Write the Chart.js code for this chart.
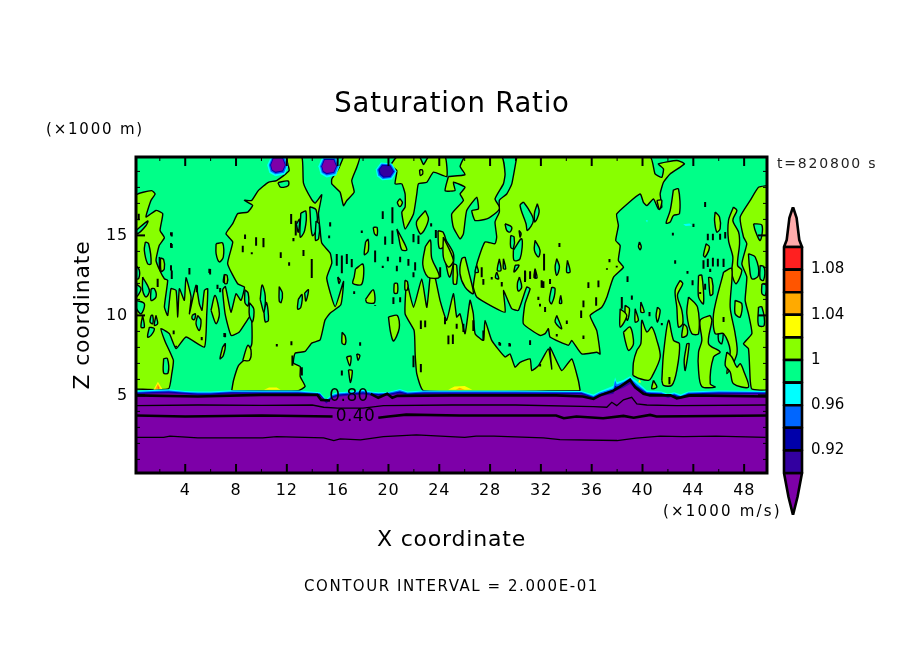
<!DOCTYPE html>
<html lang="en">
<head>
<meta charset="UTF-8">
<title>Saturation Ratio</title>
<script src="https://cdn.jsdelivr.net/npm/chart.js"></script>
<style>
  html,body{margin:0;padding:0;width:904px;height:654px;background:#fff;overflow:hidden;font-family:'DejaVu Sans',sans-serif}
  #plot{position:absolute;left:0;top:0}
  #cbar{position:absolute;left:781px;top:207px}
  .note{position:absolute;white-space:nowrap;line-height:20px;color:#000}
</style>
</head>
<body>
<canvas id="plot" width="904" height="654"></canvas>
<canvas id="cbar" width="101" height="308"></canvas>
<div class="note" style="left:46px;top:119px;font-size:15px;letter-spacing:1.8px">(×1000 m)</div>
<div class="note" style="left:777px;top:153px;font-size:14px;letter-spacing:1.8px;color:#222">t=820800 s</div>
<div class="note" style="left:663px;top:501px;font-size:15px;letter-spacing:2.2px">(×1000 m/s)</div>
<div class="note" style="left:304px;top:576px;font-size:15px;letter-spacing:1.55px">CONTOUR INTERVAL = 2.000E-01</div>
<script>
const titleText='Saturation Ratio';
const xAxisTitle='X coordinate';
const yAxisTitle='Z coordinate';
const xRange=[0.125,49.8];
const yRange=[0.15,19.9];
const xTickLabels=[4,8,12,16,20,24,28,32,36,40,44,48];
const yTickLabels=[5,10,15];
const xMinorTicks=[2,6,10,14,18,22,26,30,34,38,42,46];
const yMinorTicks=[1,2,3,4,6,7,8,9,11,12,13,14,16,17,18,19];

// colour levels, bottom to top
const cbLevels=[0.90,0.92,0.94,0.96,0.98,1.00,1.02,1.04,1.06,1.08,1.10];
const cbColors=['#3300a0','#0000aa','#0066ff','#00ffff','#00ff88','#88ff00','#ffff00','#ffaa00','#ff5500','#ff2020'];
const cbTickValues=[0.92,0.96,1,1.04,1.08];
const cbUpper=[0,1.10,0.15,1.1062,0.3,1.1257,0.5,1.1354,0.7,1.1257,0.85,1.1062,1,1.10];
const cbLower=[0,0.90,0.25,0.8787,0.5,0.8628,0.75,0.8787,1,0.90];
const PURPLE='#7d00a8',INDIGO='#3300a0',DARK='#0000aa',BLUE='#0066ff',CYAN='#00ffff',GREEN='#00ff88',LIME='#88ff00',YELLOW='#ffff00',ORANGE='#ffaa00',RED='#ff2020',PINK='#ffaaaa';

// large 1.00-1.02 regions (x,y pairs in km)
const limeLeft=[0.125,5.4,2.68,5.4,2.94,6.34,3.07,7.18,2.86,7.6,2.4,8.4,2.09,9.17,2.75,8.86,3.28,7.92,4.06,8.65,5.51,8.02,5.69,10,5.77,11.67,5.51,11.56,5.32,10.32,5.11,10.73,4.85,11.88,4.33,10.1,4.46,11.15,4.06,12.36,3.93,10.94,3.54,11.67,3.41,9.9,3.28,11.56,2.88,11.67,2.62,10,2.36,10.52,2.62,12.19,2.36,12.29,2.02,12.77,1.7,13.44,1.96,14.38,2.36,14.86,2.02,15.31,2.23,16.36,1.7,16.56,0.91,16.15,1.31,17.19,1.63,17.59,1.36,17.8,0.125,17.49];
const limeWest=[7.66,5.3,7.8,5.93,8.19,6.86,8.71,7.28,9.24,8.22,9.18,10,8.26,8.96,7.61,8.75,7.14,10.1,6.95,11.6,7.16,11.8,7.6,10.2,8,11.35,8.39,10.94,8.66,11.77,8.13,11.98,7.34,13.23,7.74,14.59,7.21,15.11,7.74,15.73,8.13,16.36,8.92,16.46,9.31,16.88,8.66,17.19,9.23,17.18,9.75,17.8,10.54,18.32,11.19,18.43,12.18,19.05,11.97,19.9,13.18,19.9,13.31,18.27,13.96,17.23,14.23,17.02,14.75,17.54,14.49,16.39,14.62,15.35,14.75,14.52,15.41,13.89,15.54,13.27,15.14,12.33,15.8,10.55,16.46,12.12,16.25,10.66,15.4,10.14,15,9.7,14.62,8.47,13.96,8.27,13.44,7.75,12.65,7.64,12.52,7.02,13.05,6.81,13.05,6.18,13.44,5.56,12.9,5.3];
const limeTopMid=[24.72,18.68,26.03,18.8,25.64,19.3,26.03,19.9,28.92,19.9,29.18,18.84,29.05,18.22,28.39,17.28,28.79,16.72,28.52,16.45,27.74,16.03,26.82,15.93,26.56,16.55,27.08,16.65,26.95,17.38,26.16,16.55,25.9,15.09,25.64,14.78,25.11,15.51,24.98,16.34,25.9,17.18,25.64,17.59,26.03,18.01,25.11,18.32,25.24,17.8,24.46,17.8];
const limeCentre=[30.1,19.9,40.6,19.9,40.99,18.84,41.52,18.63,41.65,19.15,41.25,19.47,42.7,19.68,43.3,19.47,42.17,18.84,41.65,18.32,41.39,17.59,41.52,16.76,41.25,16.65,40.86,17.28,40.34,16.86,40.07,17.07,39.81,17.59,37.97,16.34,38.1,15.61,37.89,14.68,38.24,14.36,38.1,13.43,38.5,13.01,37.71,12.38,37.19,11.13,36.79,10.51,35.87,9.99,36.4,9.05,36.66,7.59,36.4,7.7,35.22,7.59,34.43,8.43,34.17,8.13,32.72,8.65,32.59,9.17,32.33,8.86,31.93,8.75,30.62,9.48,30.75,10.73,31.15,11.67,30.88,11.77,30.23,10.32,29.7,10.42,29.05,11.56,29.18,10.21,28.26,10.52,26.95,11.15,26.68,11.77,26.82,12.61,27,13.34,27.6,14.59,28.39,14.48,28.52,14.9,28.39,15.84,28.73,16.46,28.73,17.19,29.31,17.59,29.71,18.22];
const limeLower=[35.09,5.3,34.95,5.93,34.43,7.28,33.64,6.55,32.72,8.01,32.86,6.65,32.59,7.9,31.81,6.86,31.28,6.55,31.15,7.28,30.36,7.07,29.97,6.76,29.57,7.59,29.18,7.4,28.13,8.44,27.6,9.69,27.47,8.44,26.82,8.86,26.68,10.1,26.42,10.94,26.03,8.86,25.63,10.1,25.37,9.9,25.11,11.36,24.58,9.69,24.06,10.94,23.41,13.22,23.02,10.51,22.62,12.28,21.97,10.51,21.44,12.07,21.31,10.09,22.02,9.05,22.1,7.59,22.23,6.34,22.76,5.3];
const limeEast=[49.8,18.11,49.13,18.01,48.48,17.19,47.69,16.15,47.95,14.9,48.21,14.48,47.82,13.23,48.21,12.4,48.08,10.94,48.34,10.1,48.61,8.86,47.95,8.23,48.34,7.92,48.48,5.94,48.61,5.4,49.8,5.4];
const limeSpur=[16.46,19.9,16.06,19.15,15.54,18.53,15.54,18.22,16.19,17.7,16.46,16.86,16.72,17.18,17.3,17.7,17.11,18.43,17.51,19.26,17.72,19.9];
const limeTopRight=[20.13,19.36,20.66,19.9,22.44,19.9,22.76,19.43,23.15,19.9,24.46,19.9,24.59,18.68,23.54,18.95,23.02,18.32,22.36,18.22,22.23,17.59,21.97,16.34,21.31,15.4,21.05,16.45,21.31,16.76,21.31,17.59,21.05,18.22,20.52,18.22,20.66,19.05];
const limeLarge=[limeLeft,limeWest,limeTopMid,limeCentre,limeLower,limeEast,limeSpur,limeTopRight];

// smaller closed 1.00 contours holding lime
const limeIslands=[
 [20.9,17.3,21.1,17.05,20.9,16.8,20.7,17.05],[22.45,19.1,22.65,19.1,22.7,18.85,22.5,18.75],
 [6.43,14.48,6.95,14.52,7,13.65,6.69,13.34,6.43,13.86],[7.08,12.57,7.27,12.44,7.27,12.09,7,12.09],
 [6.03,10.32,6.35,11.25,6.69,10.1,6.43,9.48],[6.95,8.03,7.16,8.23,7,7.5,6.74,7.29],[8.53,7.19,8.92,8.13,9.18,7.82,9.05,7.19],
 [2.05,13.6,2.3,13.5,2.35,12.9,2.1,12.75],[7.1,12.55,7.3,12.5,7.3,12,7.1,12],
 [16.35,8.95,16.6,8.7,16.6,8.2,16.35,8.25],[16.7,7.4,17.05,7.45,16.95,6.85],[16.85,6.6,17.15,6.55,17,5.8],[17.5,7.6,17.75,7.5,17.6,7.2],[20,9.9,20.7,10,20.85,9.2,20.4,8.4,20.15,9],
 [17.4,12.9,18,13.2,17.9,11.95,17.2,12,17.3,12.4],[18.2,14.6,18.4,14.75,18.4,14,18.1,13.8],[18.8,15.5,19.1,15.5,19.1,15,18.9,15.1],
 [20.66,15.4,21,14.9,21.45,14.1,21.05,14.1,20.8,14.9],[22.9,16.55,22.2,15.83,22.5,15.1,22.8,15.3,23.15,16.03],
 [22.9,14.3,23.3,14.7,23.4,13.6,24,12.4,23.1,12.4,22.7,13.2],[23.9,15.3,24.3,15.2,24.55,14.4,24,14.2],[24.45,14.8,25.1,13.9,25.1,13.2,24.8,12.4,24.5,13.4],
 [20.45,12,20.7,12,20.7,11.4,20.45,11.4],[21.3,12.2,21.5,12.1,21.5,11.6,21.3,11.6],[18.2,11,18.8,11.6,18.9,10.8,18.3,10.8],[16,12.4,16.2,12.2,16.1,12],
 [26.03,13.65,26.29,12.81,26.68,11.36,26.03,11.77,25.63,12.61,25.77,13.54],[25.11,13.23,25.37,13.13,25.37,11.98,25.11,11.98],[24.32,14.9,25.11,13.44,24.72,13.02,24.32,13.65],
 [45.72,16.46,46.06,16.15,46.11,15.42,45.85,15.21,45.67,15.94],
 [47.16,16.77,47.43,16.56,47.11,15.94,47.56,15.21,47.64,14.48,47.48,13.13,47.82,12.81,47.37,11.98,47.03,12.61,47.11,13.65,46.77,14.69,46.77,15.94],
 [39.24,6.25,39.29,7.08,39.55,7.81,39.87,8.23,39.95,9.69,40.34,8.96,40.73,9.27,41.13,8.44,41.39,7.4,40.73,6.15,40.47,5.94,39.81,6.04],
 [41.52,5.94,41.65,7.6,42.05,9.69,42.44,8.44,42.91,8.23,42.7,6.56,42.31,5.63,41.65,5.63],
 [42.96,12.19,43.17,11.98,42.75,11.25,43.1,10.3,43.17,9.48,42.83,9.27,42.7,10.52,42.57,11.56],[43.23,9.48,43.49,9.27,43.49,8.75,43.1,8.65],[43.49,8.23,43.67,8.23,43.36,6.56,43.28,7.19],
 [43.62,11.15,44.33,10.52,44.41,8.86,43.88,8.86,43.49,10.1],[44.41,12.5,44.67,12.5,44.8,10.73,44.41,11.15],
 [45.33,10,45.46,9.69,45.2,8.23,46.11,7.71,45.59,7.4,45.33,5.73,45.72,5.52,44.67,5.56,44.41,6.56,44.41,7.71,44.67,8.44,44.54,9.69],
 [46.38,12.71,47.03,12.92,46.9,10.52,47.29,8.86,47.43,7.6,46.64,6.36,46.9,7.81,46.38,8.86,45.72,8.86,45.59,10.1],
 [47.29,10.94,47.82,10.73,47.69,9.9,47.29,10.1],[46.64,7.71,47.03,7.4,47.43,6.77,47.69,6.98,47.95,6.56,48.34,5.52,47.16,5.73,46.9,6.46,46.51,6.88],
 [38.63,10.63,38.97,10.42,38.82,9.69,38.63,10.1],[39.42,10.42,39.68,9.69,39.42,9.59],[39.87,10.84,40.13,10.21,39.87,10.21],[41.18,10.52,41.39,10.31,41.18,9.59,41.07,10],
 [38.24,10.42,38.76,10,38.24,9.27],[38.5,8.96,39.03,9.27,39.29,8.23,38.9,7.81,38.63,8.44],[40.86,5.94,41.13,5.52,40.73,5.42],[45.2,12.4,45.46,12.29,45.54,11.36,45.33,11.25],
 [42.43,17.84,42.83,17.9,42.91,16.36,42.44,16.25,42.18,15.84,41.86,15.77,42.18,16.56],[41.13,17.19,41.52,17.19,41.34,16.61],[39.76,14.59,39.9,14.3,39.82,14.1,39.68,14.3],
 [45.01,14.48,45.27,14.27,44.93,13.65,44.8,13.75]
];

// closed contours holding green inside the lime areas
const greenHoles=[
 [0.125,15.3,1.05,15.9,0.9,15.6,0.25,15.1],[0.86,14.59,1.12,14.48,1.31,13.23,1.04,13.23,0.78,14.07],[1.96,13.65,2.28,13.02,2.02,12.81],[0.125,13.13,0.39,12.81,0.34,12.3,0.125,12.3],
 [0.65,12.4,1.18,11.56,0.91,11.15,0.65,11.56],[1.31,11.67,1.57,11.67,1.7,11.15,1.31,10.94],[0.125,11.98,0.52,11.67,0.125,11.15],[0.125,10.94,0.78,10.73,0.52,10.1,0.125,10.5],
 [1.31,10,1.44,10,1.44,9.48,1.23,9.59],[1.7,10,1.83,9.48,1.57,9.38],[0.65,10,0.78,9.27,0.52,9.27],[1.18,9.27,1.57,9.17,1.31,8.75,1.04,8.65],[4.54,10,4.8,10.1,4.72,9.73,4.54,9.8],[4.98,10,5.24,9.69,5.11,9.06,4.85,9.48],
 [2.3,7.3,2.6,7.3,2.65,6.4,2.3,6.4],
 [11.3,18.3,12.1,18.4,12.1,18.1,11.5,18.02],
 [13.1,16.4,13.5,16.5,13.4,15.3,13.05,14.9],[13.8,16.8,14.3,16.6,14.35,15.4,14,15],[12.75,15.7,13,16,12.9,15.2],[14.3,15.9,14.55,15.7,14.5,14.8,14.25,14.7],
 [9.9,11,10.05,11.9,10.3,11.2,10.2,10.2],[10.2,10.2,10.4,10.8,10.55,9.7,10.3,9.6],[11.4,11.8,11.65,11.4,11.55,10.8,11.4,10.9],[12.9,11,13.2,11.3,13.1,10.5,12.85,10.4],[13.4,11.4,13.7,11.6,13.5,10.9],
 [8.7,11.6,8.95,11.4,8.95,10.6,8.7,10.8],[9.05,10.8,9.4,10.4,9.3,9.6,9.05,10],
 [29.18,15.73,29.7,15.52,29.57,15.21,29.31,15.31],[29.62,15,29.89,14.9,29.83,14.17,29.62,14.27],[30.28,15.31,30.44,15.11,30.36,14.9],[29.83,14.07,30.49,14.79,30.36,13.54,29.89,13.44],
 [31.54,14.69,31.93,14.07,31.8,13.65,31.49,14.07],[26.95,13.13,27.08,12.71,26.82,12.71],[28.73,13.54,28.86,12.81,28.57,12.81],[29.05,13.54,29.23,12.92,29.05,12.92],[28.52,12.71,28.68,12.29,28.42,12.36],
 [29.97,13.13,30.28,13.13,29.89,12.71],[30.31,12.4,30.49,11.77,30.23,11.52,30.15,11.98],[31.54,12.92,31.7,12.36,31.46,12.36],[33.25,13.54,33.46,13.02,33.25,12.5,33.12,13.02],[34.09,13.44,34.3,12.71,34.03,12.71],
 [32.85,11.77,33.12,11.67,32.85,10.73,32.67,10.94],[33.25,10,33.64,9.17,33.12,9.59],[30.62,17.09,31,16.67,31.41,15.94,30.94,15.31,30.83,15.73,30.36,16.88],[31.72,16.98,31.86,16.46,31.54,15.84,31.49,16.36],[33.56,11.25,33.64,10.77,33.46,10.77],
 [48.34,13.86,48.87,13.65,49.13,12.5,48.61,12.29,48.42,13.02],[48.74,15.73,49.4,15.63,49.26,14.69,48.87,15.31],[49.26,13.13,49.58,13.02,49.53,12.19,49.26,12.29],[49.4,11.98,49.74,11.88,49.66,11.25,49.4,11.36],[49.13,10.52,49.4,10.52,49.58,9.38,49.13,9.38],
 [47.03,15.31,47.43,15.31,47.43,14.69,47.03,14.69],[41.91,6.98,42.31,8.02,42.39,7.6,42.05,6.98],[44.67,7.4,45.12,7.19,45.01,6.67,44.67,6.77],[45.98,9.17,46.32,9.07,46.24,8.23,45.98,8.44]
];

// very small closed contours: x, lower y, upper y
const tinyContours=[
 12.34,15.72,16.34, 12.7,14.99,15.92, 2.94,14.93,15.2, 2.94,14.22,14.47, 2.94,12.28,12.8, 4.33,12.55,12.97, 5.96,12.55,12.9, 8.53,13.95,14.36, 9.58,14.36,14.88, 10.16,14.26,14.84,
 11.52,13.59,13.95, 12.18,13.11,13.32, 13.31,13.72,14.09, 13.96,12.34,13.53, 12.52,14.63,14.84, 15.41,15.55,15.82, 15.33,14.82,14.99, 15.93,13.11,13.84, 16.33,12.63,13.74, 16.72,13.22,13.84,
 17.11,13.01,13.53, 18.95,13.32,14.05, 19.95,13.38,13.67, 19.55,12.97,13.11, 19.55,16.03,16.51, 20.31,15.76,16.76, 19.74,14.42,14.93, 20.31,14.47,15.3, 21.97,14.57,15.09, 22.36,14.47,14.99,
 23.36,15.55,15.76, 23.73,14.84,15.34, 20.92,13.32,13.67, 21.57,13.11,13.53, 22.1,12.8,13.32, 20.66,12.76,13.11, 21.97,12.38,12.7, 24.07,12.38,13.01, 17.3,11.34,11.51, 18.95,10.6,10.65,
 20.39,10.72,11.13, 20.92,10.82,11.13, 4.91,11.45,11.86, 6.54,11.65,11.92, 6.75,11.45,11.72, 9.24,13.82,13.95, 8.71,14.78,15.05, 17.9,15.15,15.3,
 27.34,12.38,13.01, 27.47,11.92,12.28, 28.13,12.25,12.4, 30.76,12.18,12.76, 31.15,12.28,12.76, 31.54,12.34,12.84, 32.2,11.72,12.13, 32.72,11.97,12.28, 31.8,10.97,11.17, 36.35,10.61,11.13, 35.35,10.51,10.93, 36.53,11.76,12.18, 35.74,11.72,12.07, 37.4,13.32,13.53, 37.2,12.85,12.95, 37.97,13,13.1,
 11.21,8.05,8.22, 12.36,8.13,8.38, 17.77,8.11,8.32, 7.14,8.63,8.88, 16.33,6.24,6.55, 22.55,9.15,9.68, 22.89,9.26,9.68, 25.07,8.22,8.8, 22.55,6.45,6.97, 21.97,6.76,7.49, 13.18,6.24,6.76, 12.44,6.86,7.49,
 28.79,8.11,8.28, 29.52,8.05,8.28, 31.15,8.15,8.38, 31.94,6.8,6.97, 33.25,8.68,8.84, 34.04,9.47,9.68, 35.17,9.84,10.3, 35.35,8.53,8.74, 27.47,8.43,9.05,
 0.34,15.94,16.36, 1.83,11.77,12.29, 2.88,12.81,13.13, 2.88,14.23,14.52, 2.88,15,15.2, 4.33,12.57,12.92, 5.9,12.65,12.92, 4.93,11.46,11.88, 3.09,8.82,9.06, 5.3,8.44,8.65, 7.08,8.65,8.9, 3.28,8,8.1,
 44.93,16.77,17.09, 44.01,15.52,15.73, 42.39,15,15.17, 45.14,14.69,15.1, 45.54,14.69,15.1, 44.8,12.92,13.44, 45.14,13.02,13.54, 45.54,13.06,13.6, 45.93,13.06,13.54, 46.38,13.02,13.54, 45.33,12.71,12.92, 42.57,13.23,13.44, 43.54,12.61,12.77, 38.82,12.09,12.44, 43.94,11.88,12.19, 44.93,11.61,11.98, 39.16,10.98,11.25, 38.37,10.42,11.15, 40.55,9.94,10.21, 46.38,9.59,9.9, 46.51,14.8,15.21, 46.11,14.73,15.1, 41.52,9.38,9.52, 44.54,11.33,11.46, 42.12,5.69,6.15,
 30.75,12.09,12.81, 31.15,12.29,12.71, 32.06,11.73,12.19, 32.25,12.81,13.86, 28.92,11.81,12.08, 33.46,14.27,14.52, 32.33,10.21,10.52, 28.73,8.13,8.34, 29.57,8.06,8.23, 31.15,8.19,8.44, 24.72,8.19,8.75, 25.9,8.96,9.48, 24.45,9.44,9.9, 25.37,9.17,9.48, 26.68,9.02,9.69, 27.47,8.54,9.06, 31.93,10.56,10.73
];

// steep layers along the ground band
const bandX=[0.125,1.5,2.7,4,5,6,7.6,10,12.9,14.6,15.1,15.6,16,17,18,18.6,19.2,20,20.9,21.5,22.8,26,30,35.2,36.14,36.6,37.71,37.84,37.97,38.5,39.02,39.55,40.34,41.5,42,42.5,43,43.6,46,49.8];
const cyanTop=[5.28,5.35,5.38,5.28,5.25,5.25,5.32,5.3,5.3,5.2,4.75,5.1,5.2,5.25,5.35,5.25,5.2,5.22,5.4,5.25,5.3,5.3,5.3,5.28,5.05,5.25,5.6,6.13,5.82,5.97,6.2,5.88,5.3,5.25,5.1,5.2,5.05,5.25,5.3,5.28];
const blueTop=[5.22,5.28,5.3,5.22,5.18,5.18,5.25,5.24,5.24,5.14,4.68,5.02,5.12,5.18,5.28,5.18,5.14,5.16,5.32,5.18,5.24,5.24,5.24,5.22,4.97,5.16,5.45,5.95,5.68,5.85,6.08,5.72,5.22,5.18,5.02,5.12,4.97,5.18,5.24,5.22];
const darkTop=[5.16,5.22,5.24,5.16,5.12,5.12,5.19,5.18,5.18,5.08,4.62,4.95,5.05,5.12,5.2,5.12,5.08,5.1,5.24,5.12,5.18,5.18,5.18,5.16,4.9,5.08,5.32,5.6,5.55,5.72,5.98,5.58,5.16,5.12,4.96,5.06,4.9,5.12,5.18,5.16];
const indigoTop=[5.1,5.16,5.18,5.1,5.06,5.06,5.13,5.12,5.12,5.02,4.56,4.88,4.98,5.06,5.12,5.06,5.02,5.04,5.16,5.06,5.12,5.12,5.12,5.1,4.84,5,5.2,5.45,5.42,5.6,5.86,5.45,5.1,5.06,4.9,5,4.84,5.06,5.12,5.1];
const purpleTop=[5.05,5.1,5.12,5.05,5,5,5.07,5.06,5.06,4.96,4.5,4.82,4.92,5,5.05,5,4.96,4.98,5.08,5,5.06,5.06,5.06,5.04,4.78,4.93,5.1,5.3,5.3,5.48,5.72,5.32,5.04,5,4.84,4.94,4.78,5,5.06,5.05];

// labelled and unlabelled contours inside the purple area
const c80a=[0.125,5,5,4.93,10,5.03,14.4,5.03,14.7,4.72,15.4,4.68];
const c80b=[18.6,5.1,19.2,4.85,19.9,5.1,20.3,4.85,20.7,4.97,25,5,28.3,5,33.2,5,35.3,4.93,36.14,4.78,36.66,5,37.71,5.3,38.24,5.55,39.02,5.97,39.42,5.5,40.07,5.1,40.6,5,42.2,5,42.7,4.82,43.75,5,49.8,4.93];
const c60=[0.125,4.36,5,4.4,10,4.38,14,4.4,14.9,4.26,16,4.2,18,4.2,19.6,4.36,25,4.4,30,4.4,36.14,4.3,37.19,4.26,37.58,4.57,37.97,4.36,38.5,4.72,39.15,4.88,39.55,4.47,40.34,4.4,42.7,4.36,49.8,4.4];
const c40a=[0.125,3.74,4,3.68,10,3.74,15.6,3.68];
const c40b=[19.2,3.6,20,3.68,21.4,3.8,25.6,3.74,33.2,3.74,33.8,3.57,34.8,3.68,36.9,3.57,38.5,3.72,39.3,3.6,40.6,3.78,41.1,3.68,49.8,3.74];
const c20=[0.125,2.38,2.3,2.38,2.8,2.45,5,2.34,10.1,2.34,11.2,2.42,14.9,2.34,15.7,2.18,16.2,2.28,17.8,2.22,19.6,2.42,22.2,2.53,26,2.38,26.9,2.45,28.3,2.45,32.2,2.34,33.5,2.24,38,2.18,39.5,2.33,41.4,2.45,43.2,2.42,45.8,2.45,49.7,2.38];
const contourLabelText=['0.80','0.40'];
const contourLabelX=[16.9,17.4];
const contourLabelY=[4.94,3.66];

// dry cells at the model top
const cell1Cyan=[10.45,19.4,10.75,19.9,11.88,19.9,12.12,19.4,11.85,18.82,11.1,18.7,10.62,18.92];
const cell1Blue=[10.58,19.4,10.85,19.9,11.78,19.9,12.02,19.4,11.78,18.92,11.1,18.82,10.72,19];
const cell1Dark=[10.68,19.4,10.9,19.85,11.7,19.85,11.92,19.4,11.7,19,11.1,18.9,10.8,19.05];
const cell1Core=[10.75,19.4,10.95,19.8,11.65,19.8,11.85,19.4,11.65,19.05,11.1,18.98,10.85,19.1];
const cell2Cyan=[14.48,19.32,14.78,19.88,15.91,19.88,16.15,19.32,15.88,18.74,15.13,18.62,14.65,18.84];
const cell2Blue=[14.61,19.32,14.88,19.82,15.81,19.82,16.05,19.32,15.81,18.84,15.13,18.74,14.75,18.92];
const cell2Dark=[14.71,19.32,14.93,19.77,15.73,19.77,15.95,19.32,15.73,18.92,15.13,18.82,14.83,18.97];
const cell2Core=[14.78,19.32,14.98,19.72,15.68,19.72,15.88,19.32,15.68,18.97,15.13,18.9,14.88,19.02];
const cell3Cyan=[19,19.12,19.4,19.55,20.28,19.5,20.65,19,20.28,18.5,19.5,18.44,19.1,18.7];
const cell3Blue=[19.1,19.1,19.45,19.48,20.2,19.44,20.55,19,20.2,18.58,19.55,18.52,19.2,18.76];
const cell3Dark=[19.2,19.1,19.5,19.42,20.15,19.38,20.45,19,20.15,18.65,19.6,18.6,19.3,18.8];
const cell3Core=[19.3,19.1,19.55,19.35,20.1,19.3,20.35,19,20.1,18.72,19.65,18.68,19.4,18.85];
const cellLayers=[cell1Cyan,cell1Blue,cell1Dark,cell1Core,cell2Cyan,cell2Blue,cell2Dark,cell2Core,cell3Cyan,cell3Blue,cell3Dark,cell3Core];
const cellColors=[CYAN,BLUE,DARK,PURPLE,CYAN,BLUE,DARK,PURPLE,CYAN,BLUE,DARK,INDIGO];

// small saturated spots
const spots=[[1.5,5.35,1.85,5.85,2.2,5.4],[1.65,5.4,1.85,5.72,2.05,5.42],[1.78,5.42,1.85,5.6,1.93,5.43],[10.2,5.35,10.6,5.5,11.2,5.5,11.5,5.35],[24.7,5.35,25.2,5.55,26,5.58,26.6,5.35],[25.3,5.35,25.6,5.48,26,5.35],[39.65,5.8,39.78,6,39.88,5.8],[40.25,15.95,40.42,15.95,40.36,15.8],[43.2,15.7,43.7,15.75,43.9,15.62,43.4,15.58]];
const spotColors=[YELLOW,ORANGE,RED,YELLOW,YELLOW,ORANGE,YELLOW,CYAN,CYAN];

function toPts(a){const o=[];for(let i=0;i<a.length;i+=2)o.push({x:a[i],y:a[i+1]});return o;}
function region(a,color,width,bend){
  const p=toPts(a);
  if(width)p.push(p[0]);
  return {data:p,showLine:true,pointRadius:0,borderWidth:width||0,borderColor:'#000',backgroundColor:color,fill:'shape',borderJoinStyle:'round',tension:bend||0};
}
function contour(a,width){
  return {data:toPts(a),showLine:true,pointRadius:0,borderWidth:width,borderColor:'#000',fill:false};
}
function band(top,color){
  const p=[];
  bandX.forEach((x,i)=>p.push(x,top[i]));
  p.push(49.8,yRange[0],0.125,yRange[0]);
  return region(p,color,0);
}
function tinyData(){
  const o=[];
  for(let i=0;i<tinyContours.length;i+=3){
    o.push({x:tinyContours[i],y:tinyContours[i+1]},{x:tinyContours[i],y:tinyContours[i+2]},{x:null,y:null});
  }
  return o;
}

// paint order: first in this list ends up underneath
const layers=[];
layers.push(region([0.125,0.15,49.8,0.15,49.8,19.9,0.125,19.9],GREEN,0));
limeLarge.forEach(a=>layers.push(region(a,LIME,1.4,0.15)));
greenHoles.forEach(a=>layers.push(region(a,GREEN,1.4,0.35)));
limeIslands.forEach(a=>layers.push(region(a,LIME,1.4,0.3)));
layers.push({data:tinyData(),showLine:true,pointRadius:0,borderWidth:2,borderColor:'#000',fill:false,spanGaps:false});
spots.forEach((a,i)=>layers.push(region(a,spotColors[i],0)));
layers.push(band(cyanTop,CYAN),band(blueTop,BLUE),band(darkTop,DARK),band(indigoTop,INDIGO),band(purpleTop,PURPLE));
layers.push(contour(c80a,2.6),contour(c80b,2.6),contour(c60,1.3),contour(c40a,2.6),contour(c40b,2.6),contour(c20,1.3));
cellLayers.forEach((a,i)=>layers.push(region(a,cellColors[i],0)));

const frameAndTicks={
  id:'frameAndTicks',
  beforeDraw(chart){chart.ctx.letterSpacing='0.8px';},
  afterDatasetsDraw(chart){
    const {ctx,chartArea:a,scales:{x,y}}=chart;
    ctx.save();
    ctx.strokeStyle='#000';
    ctx.lineWidth=2;
    const tick=(x1,y1,x2,y2)=>{ctx.beginPath();ctx.moveTo(x1,y1);ctx.lineTo(x2,y2);ctx.stroke();};
    xTickLabels.forEach(v=>{const p=x.getPixelForValue(v);tick(p,a.bottom,p,a.bottom-9);tick(p,a.top,p,a.top+9);});
    yTickLabels.forEach(v=>{const p=y.getPixelForValue(v);tick(a.left,p,a.left+9,p);tick(a.right,p,a.right-9,p);});
    ctx.lineWidth=1;
    xMinorTicks.forEach(v=>{const p=x.getPixelForValue(v);tick(p,a.bottom,p,a.bottom-4);tick(p,a.top,p,a.top+4);});
    yMinorTicks.forEach(v=>{const p=y.getPixelForValue(v);tick(a.left,p,a.left+4,p);tick(a.right,p,a.right-4,p);});
    ctx.lineWidth=3;
    ctx.strokeRect(a.left,a.top,a.right-a.left,a.bottom-a.top);
    ctx.fillStyle='#000';
    ctx.font='17px "DejaVu Sans"';
    ctx.letterSpacing='0.4px';
    ctx.textAlign='center';
    ctx.textBaseline='middle';
    contourLabelText.forEach((t,i)=>ctx.fillText(t,x.getPixelForValue(contourLabelX[i]),y.getPixelForValue(contourLabelY[i])));
    ctx.restore();
  }
};

new Chart(document.getElementById('plot'),{
  type:'scatter',
  data:{datasets:layers.slice().reverse()},
  options:{
    responsive:false,
    animation:false,
    devicePixelRatio:1,
    layout:{autoPadding:false,padding:0},
    plugins:{
      legend:{display:false},
      tooltip:{enabled:false},
      title:{display:true,text:titleText,color:'#000',font:{family:'DejaVu Sans',size:27.5,weight:'normal'},padding:{top:88,bottom:36}}
    },
    scales:{
      x:{
        type:'linear',min:xRange[0],max:xRange[1],
        grid:{display:false},border:{display:false},
        afterFit(s){s.height=181;},
        afterBuildTicks(s){s.ticks=xTickLabels.map(v=>({value:v}));},
        ticks:{color:'#000',font:{family:'DejaVu Sans',size:16},padding:0,maxRotation:0,autoSkip:false},
        title:{display:true,text:xAxisTitle,color:'#000',font:{family:'DejaVu Sans',size:22},padding:{bottom:101,top:0}}
      },
      y:{
        type:'linear',min:yRange[0],max:yRange[1],
        grid:{display:false},border:{display:false},
        afterFit(s){s.width=136;},
        afterBuildTicks(s){s.ticks=yTickLabels.map(v=>({value:v}));},
        ticks:{color:'#000',font:{family:'DejaVu Sans',size:16},padding:0,autoSkip:false},
        title:{display:true,text:yAxisTitle,color:'#000',font:{family:'DejaVu Sans',size:22},padding:{top:70,bottom:0}}
      },
      rightGap:{
        axis:'y',position:'right',min:0,max:1,
        grid:{display:false},border:{display:false},ticks:{display:false},
        afterFit(s){s.width=137;}
      }
    }
  },
  plugins:[frameAndTicks]
});

// colour bar
const cbSets=[];
cbColors.forEach((c,i)=>cbSets.push(region([0,cbLevels[i],1,cbLevels[i],1,cbLevels[i+1],0,cbLevels[i+1]],c,2.6)));
cbSets.push(region(cbUpper,PINK,2.6),region(cbLower,PURPLE,2.6));
cbSets.forEach(d=>d.clip=false);

new Chart(document.getElementById('cbar'),{
  type:'scatter',
  data:{datasets:cbSets},
  options:{
    responsive:false,
    animation:false,
    devicePixelRatio:1,
    layout:{autoPadding:false,padding:{left:3,right:0,top:0,bottom:0}},
    plugins:{legend:{display:false},tooltip:{enabled:false},title:{display:false}},
    scales:{
      x:{type:'linear',min:0,max:1,display:false},
      y:{
        type:'linear',position:'right',min:0.8628,max:1.1354,
        grid:{display:false},border:{display:false},
        afterFit(s){s.width=80;s.paddingTop=0;s.paddingBottom=0;},
        afterBuildTicks(s){s.ticks=cbTickValues.map(v=>({value:v}));},
        ticks:{color:'#000',font:{family:'DejaVu Sans',size:15},padding:1,autoSkip:false,callback:v=>String(v)}
      }
    }
  }
});
</script>
</body>
</html>
